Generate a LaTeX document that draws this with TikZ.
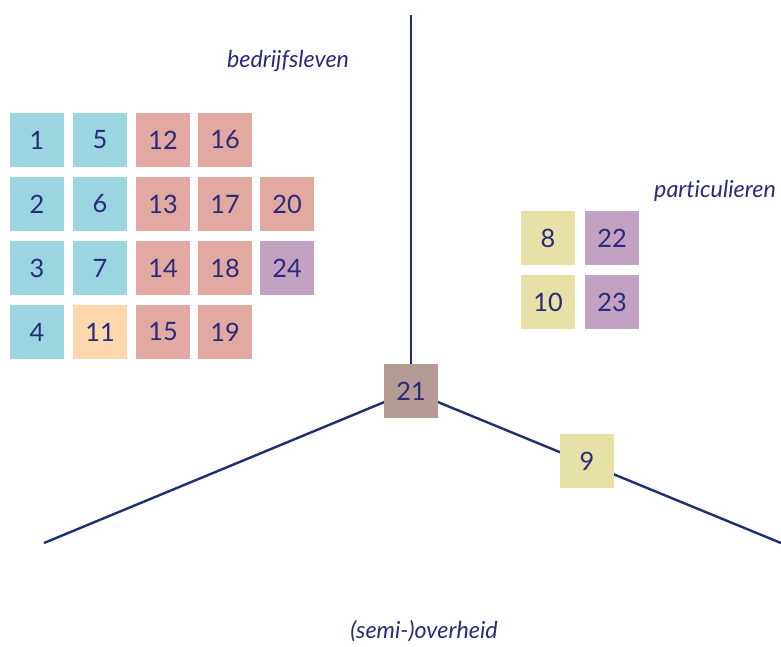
\documentclass[tikz,border=0pt]{standalone}
\usepackage{fontspec}
\setmainfont{Lato}[Ligatures={NoCommon}]
\usepackage{tikz}
\usetikzlibrary{positioning,backgrounds}
\definecolor{navy}{HTML}{2A2A7A}
\definecolor{axis}{HTML}{1C2F6E}
\definecolor{cblue}{HTML}{9BD5E2}
\definecolor{csalmon}{HTML}{E2A9A0}
\definecolor{cpeach}{HTML}{FDD8AE}
\definecolor{cpurple}{HTML}{C2A1C1}
\definecolor{cyellow}{HTML}{E6E1A6}
\definecolor{ctaupe}{HTML}{B59B94}
\tikzstyle{cell}=[minimum size=40.5pt,inner sep=0pt,text=navy,font=\fontsize{19}{19}\selectfont]
\tikzstyle{sector}=[anchor=base,text=navy,font=\fontsize{17.5}{17.5}\selectfont\itshape]

\begin{document}
\begin{tikzpicture}[x=0.75pt,y=-0.75pt]
\useasboundingbox (0,0) rectangle (781,646);
% bedrijfsleven
\node [cell,fill=cblue] (n1) at (37,140) {1};
\node [cell,fill=cblue] (n2) at (37,204) {2};
\node [cell,fill=cblue] (n3) at (37,268) {3};
\node [cell,fill=cblue] (n4) at (37,332) {4};
\node [cell,fill=cblue] (n5) at (100,140) {5};
\node [cell,fill=cblue] (n6) at (100,204) {6};
\node [cell,fill=cblue] (n7) at (100,268) {7};
\node [cell,fill=cpeach] (n11) at (100,332) {11};
\node [cell,fill=csalmon] (n12) at (163,140) {12};
\node [cell,fill=csalmon] (n13) at (163,204) {13};
\node [cell,fill=csalmon] (n14) at (163,268) {14};
\node [cell,fill=csalmon] (n15) at (163,332) {15};
\node [cell,fill=csalmon] (n16) at (225,140) {16};
\node [cell,fill=csalmon] (n17) at (225,204) {17};
\node [cell,fill=csalmon] (n18) at (225,268) {18};
\node [cell,fill=csalmon] (n19) at (225,332) {19};
\node [cell,fill=csalmon] (n20) at (287,204) {20};
\node [cell,fill=cpurple] (n24) at (287,268) {24};
% particulieren
\node [cell,fill=cyellow] (n8) at (548,238) {8};
\node [cell,fill=cyellow] (n10) at (548,302) {10};
\node [cell,fill=cpurple] (n22) at (612,238) {22};
\node [cell,fill=cpurple] (n23) at (612,302) {23};
% centre and axis
\node [cell,fill=ctaupe] (n21) at (411,391) {21};
\node [cell,fill=cyellow] (n9) at (587,461) {9};
\coordinate (top) at (411,15);
\coordinate (left) at (44,543);
\coordinate (right) at (781,543);
\begin{scope}[on background layer]
	\draw [axis,line width=1.8pt] (n21.center) -- (top);
	\draw [axis,line width=1.8pt] (n21.center) -- (left);
	\draw [axis,line width=1.8pt] (n21.center) -- (right);
\end{scope}
% labels
\node [sector] (lbed) at (288,67) {bedrijfsleven};
\node [sector] (lpart) at (715,197) {particulieren};
\node [sector] (lgov) at (424,638) {(semi-)overheid};
\end{tikzpicture}
\end{document}
